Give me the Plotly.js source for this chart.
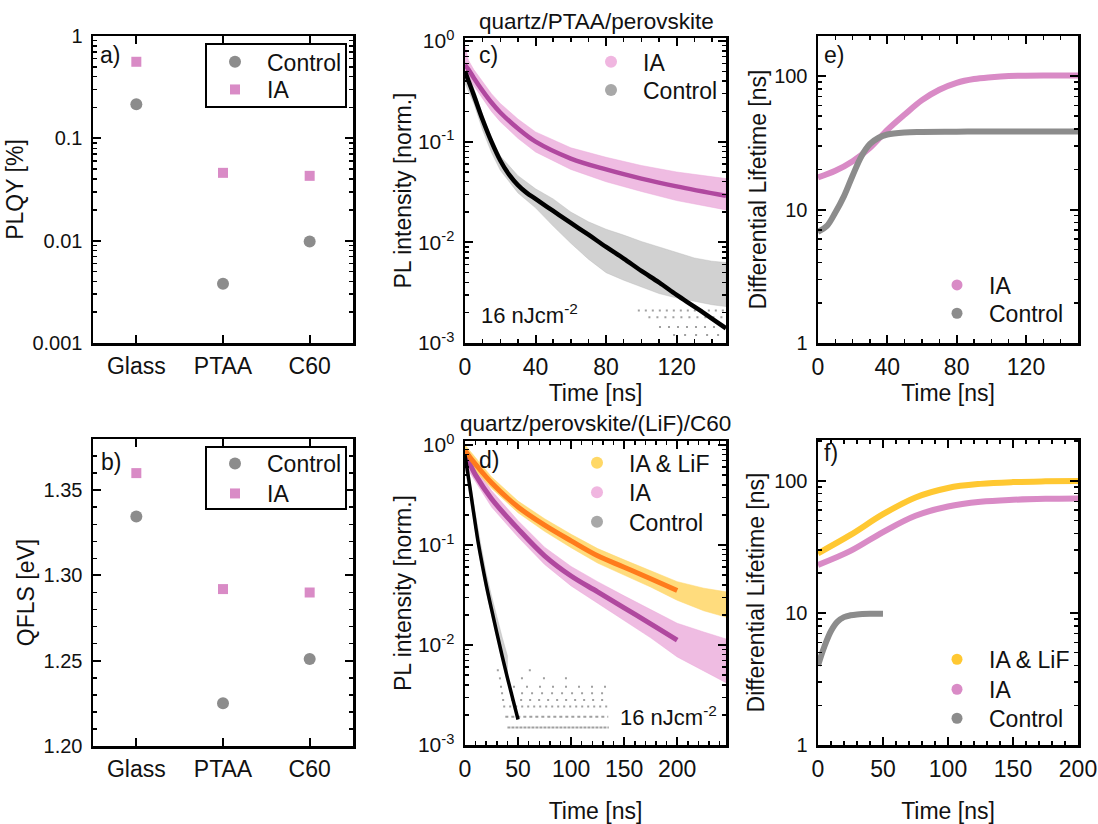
<!DOCTYPE html>
<html><head><meta charset="utf-8">
<script src="https://cdn.plot.ly/plotly-3.0.1.min.js"></script>
<style>html,body{margin:0;padding:0;background:#fff}#chart{width:1098px;height:824px}</style>
</head><body><div id="chart"></div>
<script>
// ---------- data ----------
const substrates = ['Glass', 'PTAA', 'C60'];
const plqyControl = [0.215, 0.0038, 0.0098];
const plqyIA = [0.56, 0.046, 0.043];
const qflsControl = [1.3345, 1.225, 1.251];
const qflsIA = [1.360, 1.292, 1.290];

// panel c (quartz/PTAA/perovskite)
const cIAFitTime = [0, 2, 5, 10, 15, 20, 30, 40, 60, 80, 100, 120, 148];
const cIAFit = [0.58, 0.52, 0.43, 0.32, 0.245, 0.195, 0.135, 0.100, 0.068, 0.053, 0.043, 0.036, 0.029];
const cIADataTime = [0, 2, 5, 10, 15, 20, 30, 40, 60, 80, 100, 120, 148];
const cIADataUpper = [0.9, 0.64, 0.52, 0.39, 0.30, 0.24, 0.168, 0.125, 0.087, 0.070, 0.058, 0.050, 0.043];
const cIADataLower = [0.45, 0.43, 0.36, 0.265, 0.20, 0.158, 0.108, 0.079, 0.053, 0.040, 0.032, 0.026, 0.021];
const cCtrlFitTime = [0, 2, 5, 10, 15, 20, 25, 30, 35, 40, 50, 60, 70, 80, 90, 100, 110, 120, 130, 140, 148];
const cCtrlFit = [0.5, 0.40, 0.29, 0.165, 0.10, 0.065, 0.047, 0.037, 0.031, 0.027, 0.0205, 0.0156, 0.0119, 0.0090, 0.0069, 0.0052, 0.0040, 0.0030, 0.0023, 0.00175, 0.0014];
const cCtrlDataTime = [0, 5, 10, 15, 20, 30, 40, 50, 60, 70, 80, 90, 100, 110, 120, 130, 140, 148];
const cCtrlDataUpper = [0.62, 0.33, 0.185, 0.11, 0.072, 0.046, 0.034, 0.027, 0.020, 0.016, 0.0135, 0.0118, 0.0102, 0.0090, 0.0080, 0.0070, 0.0065, 0.0063];
const cCtrlDataLower = [0.38, 0.24, 0.13, 0.078, 0.052, 0.031, 0.022, 0.0145, 0.0098, 0.0068, 0.0050, 0.0042, 0.0036, 0.0031, 0.0028, 0.0026, 0.0024, 0.0023];
const cCtrlRowLevel = [0.0021, 0.0018, 0.00144, 0.0012];
const cCtrlRowStart = [98, 104, 110, 118];
const cCtrlRowEnd = [148, 148, 148, 148];

// panel d (quartz/perovskite/(LiF)/C60)
const dFitTime = [0, 5, 10, 25, 50, 75, 100, 125, 150, 175, 200];
const dLiFFit = [0.88, 0.745, 0.64, 0.42, 0.24, 0.158, 0.11, 0.078, 0.060, 0.046, 0.035];
const dIAFit = [0.78, 0.63, 0.50, 0.29, 0.145, 0.078, 0.049, 0.034, 0.0235, 0.0163, 0.0112];
const dDataTime = [0, 5, 10, 25, 50, 75, 100, 125, 150, 175, 200, 225, 246];
const dLiFUpper = [1.0, 0.86, 0.74, 0.48, 0.275, 0.183, 0.128, 0.092, 0.071, 0.055, 0.043, 0.037, 0.034];
const dLiFLower = [0.72, 0.64, 0.55, 0.37, 0.21, 0.137, 0.094, 0.066, 0.050, 0.038, 0.028, 0.022, 0.019];
const dIAUpper = [0.95, 0.74, 0.60, 0.35, 0.175, 0.095, 0.061, 0.043, 0.031, 0.0225, 0.0165, 0.0135, 0.0115];
const dIALower = [0.60, 0.52, 0.42, 0.24, 0.12, 0.064, 0.039, 0.026, 0.0175, 0.0118, 0.0076, 0.0055, 0.0042];
const dCtrlFitTime = [0, 2, 4, 6, 8, 10, 12, 15, 20, 25, 30, 35, 40, 45, 50];
const dCtrlFit = [0.8, 0.58, 0.42, 0.30, 0.215, 0.155, 0.113, 0.075, 0.040, 0.0228, 0.0132, 0.0078, 0.0047, 0.0029, 0.0018];
const dCtrlDataTime = [0, 5, 10, 15, 20, 25, 30, 35, 40];
const dCtrlDataUpper = [0.92, 0.42, 0.20, 0.10, 0.052, 0.031, 0.019, 0.012, 0.0078];
const dCtrlDataLower = [0.60, 0.28, 0.13, 0.062, 0.034, 0.020, 0.0115, 0.0068, 0.0042];
const dCtrlRowLevel = [0.0015, 0.00192, 0.00242, 0.00282, 0.00329, 0.00383, 0.00464, 0.0056];
const dCtrlRowStart = [40, 38, 36, 35, 34, 33, 32, 30];
const dCtrlRowEnd = [135.5, 135, 135, 135, 137, 138, 110, 75];

// panel e (differential lifetime, PTAA)
const eIATime = [0, 10, 20, 30, 40, 50, 60, 70, 80, 90, 100, 110, 120, 135, 150];
const eIA = [17.4, 19.5, 23, 29, 39.5, 51.5, 66, 79, 89, 95, 98, 100, 100.5, 101, 101];
const eCtrlTime = [0, 5, 10, 15, 20, 25, 30, 35, 40, 50, 60, 80, 100, 150];
const eCtrl = [6.8, 7.5, 9.5, 12.6, 18, 25, 31, 34.5, 36.5, 37.8, 38.1, 38.3, 38.4, 38.4];

// panel f (differential lifetime, C60)
const fTime = [0, 25, 50, 75, 100, 125, 150, 175, 200];
const fLiF = [28.3, 39, 56, 75, 88.5, 95, 98, 99.3, 100];
const fIA = [23.1, 29.5, 41, 54.5, 64, 69.5, 72, 73.2, 73.6];
const fCtrlTime = [0, 5, 10, 15, 20, 25, 30, 40, 50];
const fCtrl = [4.0, 5.6, 7.3, 8.6, 9.3, 9.6, 9.75, 9.85, 9.85];

const logTickVals = [0.001, 0.01, 0.1, 1];
const plqyTickText = ['0.001', '0.01', '0.1', '1'];
const powTickText = ['10<sup>-3</sup>', '10<sup>-2</sup>', '10<sup>-1</sup>', '10<sup>0</sup>'];
const lifeTickVals = [1, 10, 100];
const lifeTickText = ['1', '10', '100'];

// ---------- styles ----------
const FONT = 'Liberation Sans, Arial, Helvetica, sans-serif';
const PINK = '#d98bc6', GREY = '#8c8c8c', YELLOW = '#ffc832';
const PINK_CLOUD = 'rgba(234,166,216,0.75)', GREY_CLOUD = 'rgba(180,180,180,0.62)', YELLOW_CLOUD = 'rgba(255,214,102,0.85)';
const MAGENTA = '#b0489f', ORANGE = '#ff7b1c';
const W = 1098, H = 824;

function band(t, up, lo, color, xa, ya) {
  return {x: t.concat(t.slice().reverse()), y: up.concat(lo.slice().reverse()),
    mode: 'lines', fill: 'toself', fillcolor: color, line: {width: 0.6, color: color},
    xaxis: xa, yaxis: ya, showlegend: false, hoverinfo: 'skip'};
}
function line(t, v, color, w, xa, ya) {
  return {x: t, y: v, mode: 'lines', line: {color: color, width: w, shape: 'spline'},
    xaxis: xa, yaxis: ya, showlegend: false};
}
function rows(levels, starts, ends, dashes, xa, ya) {
  return levels.map((lv, i) => ({x: [starts[i], ends[i]], y: [lv, lv], mode: 'lines',
    line: {color: 'rgba(150,150,150,0.9)', width: 2, dash: dashes[i]},
    xaxis: xa, yaxis: ya, showlegend: false, hoverinfo: 'skip'}));
}

// legend entries: one small legend per entry so that each sits where the reference puts it
const legendSpecs = [];
let legendCount = 0;
function newLegend(left, cy) {
  legendCount += 1;
  const key = legendCount === 1 ? 'legend' : 'legend' + legendCount;
  legendSpecs.push({key, left, cy});
  return key;
}
function legendDot(name, color, left, cy, xa, ya, size) {
  return {x: [null], y: [null], mode: 'markers', name: name, legend: newLegend(left, cy),
    marker: {color: color, size: size || 12, symbol: 'circle'}, xaxis: xa, yaxis: ya};
}

const traces = [];
// a
traces.push({x: substrates, y: plqyControl, mode: 'markers', name: 'Control', legend: newLegend(203, 61.7),
  marker: {symbol: 'circle', size: 12, color: GREY}, xaxis: 'x', yaxis: 'y'});
traces.push({x: substrates, y: plqyIA, mode: 'markers', name: 'IA', legend: newLegend(203, 89.5),
  marker: {symbol: 'square', size: 10, color: PINK}, xaxis: 'x', yaxis: 'y'});
// b
traces.push({x: substrates, y: qflsControl, mode: 'markers', name: 'Control', legend: newLegend(203, 463.5),
  marker: {symbol: 'circle', size: 12, color: GREY}, xaxis: 'x2', yaxis: 'y2'});
traces.push({x: substrates, y: qflsIA, mode: 'markers', name: 'IA', legend: newLegend(203, 493.5),
  marker: {symbol: 'square', size: 10, color: PINK}, xaxis: 'x2', yaxis: 'y2'});
// c
traces.push(band(cCtrlDataTime, cCtrlDataUpper, cCtrlDataLower, GREY_CLOUD, 'x3', 'y3'));
traces.push(...rows(cCtrlRowLevel, cCtrlRowStart, cCtrlRowEnd, ['2px,5px', '2px,6px', '2px,7px', '2px,9px'], 'x3', 'y3'));
traces.push(band(cIADataTime, cIADataUpper, cIADataLower, PINK_CLOUD, 'x3', 'y3'));
traces.push(line(cIAFitTime, cIAFit, MAGENTA, 4.5, 'x3', 'y3'));
traces.push(line(cCtrlFitTime, cCtrlFit, '#000', 4.5, 'x3', 'y3'));
traces.push(legendDot('IA', '#f0b6e0', 579, 61.7, 'x3', 'y3'));
traces.push(legendDot('Control', '#a8a8a8', 579, 90, 'x3', 'y3'));
// d
traces.push(...rows(dCtrlRowLevel, dCtrlRowStart, dCtrlRowEnd, ['3px,1px', '3px,3px', '2px,4px', '2px,7px', '2px,8px', '2px,11px', '2px,20px', '2px,30px'], 'x4', 'y4'));
traces.push(band(dCtrlDataTime, dCtrlDataUpper, dCtrlDataLower, GREY_CLOUD, 'x4', 'y4'));
traces.push(band(dDataTime, dIAUpper, dIALower, PINK_CLOUD, 'x4', 'y4'));
traces.push(band(dDataTime, dLiFUpper, dLiFLower, YELLOW_CLOUD, 'x4', 'y4'));
traces.push(line(dFitTime, dIAFit, MAGENTA, 5, 'x4', 'y4'));
traces.push(line(dFitTime, dLiFFit, ORANGE, 5, 'x4', 'y4'));
traces.push(line(dCtrlFitTime, dCtrlFit, '#000', 3.5, 'x4', 'y4'));
traces.push(legendDot('IA &amp; LiF', '#ffd866', 565, 462.7, 'x4', 'y4'));
traces.push(legendDot('IA', '#f0b6e0', 565, 492.3, 'x4', 'y4'));
traces.push(legendDot('Control', '#a8a8a8', 565, 521.7, 'x4', 'y4'));
// e
traces.push(line(eIATime, eIA, PINK, 6, 'x5', 'y5'));
traces.push(line(eCtrlTime, eCtrl, GREY, 6, 'x5', 'y5'));
traces.push(legendDot('IA', PINK, 925, 285, 'x5', 'y5', 11));
traces.push(legendDot('Control', GREY, 925, 313.3, 'x5', 'y5', 11));
// f
traces.push(line(fTime, fLiF, YELLOW, 6, 'x6', 'y6'));
traces.push(line(fTime, fIA, PINK, 6, 'x6', 'y6'));
traces.push(line(fCtrlTime, fCtrl, GREY, 6, 'x6', 'y6'));
traces.push(legendDot('IA &amp; LiF', YELLOW, 925, 659.3, 'x6', 'y6', 11));
traces.push(legendDot('IA', PINK, 925, 689.3, 'x6', 'y6', 11));
traces.push(legendDot('Control', GREY, 925, 718.3, 'x6', 'y6', 11));

// ---------- layout ----------
const px = (a, b) => [a / W, b / W];
const py = (top, bottom) => [1 - bottom / H, 1 - top / H];
const tf = s => ({family: FONT, size: s, color: '#111'});

function axis(extra) {
  return Object.assign({showline: true, linecolor: '#000', linewidth: 2.5, mirror: 'ticks',
    ticks: 'inside', ticklen: 8, tickwidth: 2, tickcolor: '#000', showgrid: false, zeroline: false,
    ticklabelstandoff: 4, tickfont: tf(23)}, extra);
}
const minorLin = d => ({dtick: d, ticks: 'inside', ticklen: 4, tickwidth: 1.5, tickcolor: '#000', showgrid: false});
const minorLog = {dtick: 'D1', ticks: 'inside', ticklen: 4, tickwidth: 1.5, tickcolor: '#000', showgrid: false};

const layout = {
  width: W, height: H, margin: {l: 0, r: 0, t: 0, b: 0}, paper_bgcolor: '#fff', plot_bgcolor: '#fff',
  font: {family: FONT, color: '#111', size: 23}, showlegend: true, hovermode: false,
  // a
  xaxis: axis({domain: px(93, 353), anchor: 'y', type: 'category', range: [-0.5, 2.5], ticklabelstandoff: 1}),
  yaxis: axis({domain: py(36, 343), anchor: 'x', type: 'log', range: [-3, 0], tickvals: logTickVals,
    ticktext: plqyTickText, tickfont: tf(20), minor: minorLog, title: {text: 'PLQY [%]', font: tf(23), standoff: 3}}),
  // b
  xaxis2: axis({domain: px(93, 353), anchor: 'y2', type: 'category', range: [-0.5, 2.5], ticklabelstandoff: 1}),
  yaxis2: axis({domain: py(439, 746), anchor: 'x2', range: [1.2, 1.38], dtick: 0.05, tick0: 1.2,
    tickformat: '.2f', tickfont: tf(20), minor: minorLin(0.01), title: {text: 'QFLS [eV]', font: tf(23), standoff: 3}}),
  // c
  xaxis3: axis({domain: px(465, 726), anchor: 'y3', range: [0, 148], dtick: 40, minor: minorLin(10),
    ticklabelstandoff: 2, title: {text: 'Time [ns]', font: tf(23), standoff: 0}}),
  yaxis3: axis({domain: py(38, 343), anchor: 'x3', type: 'log', range: [-3, 0.03], tickvals: logTickVals,
    ticktext: powTickText, tickfont: tf(21), minor: minorLog, title: {text: 'PL intensity [norm.]', font: tf(23), standoff: 0}}),
  // d
  xaxis4: axis({domain: px(465, 726), anchor: 'y4', range: [0, 246], dtick: 50, minor: minorLin(10),
    ticklabelstandoff: 2, title: {text: 'Time [ns]', font: tf(23), standoff: 26}}),
  yaxis4: axis({domain: py(441, 745), anchor: 'x4', type: 'log', range: [-3, 0.04], tickvals: logTickVals,
    ticktext: powTickText, tickfont: tf(21), minor: minorLog, title: {text: 'PL intensity [norm.]', font: tf(23), standoff: 0}}),
  // e
  xaxis5: axis({domain: px(818, 1078), anchor: 'y5', range: [0, 150], dtick: 40, minor: minorLin(10),
    ticklabelstandoff: 2, title: {text: 'Time [ns]', font: tf(23), standoff: 0}}),
  yaxis5: axis({domain: py(36, 343), anchor: 'x5', type: 'log', range: [0, 2.3], tickvals: lifeTickVals,
    ticktext: lifeTickText, tickfont: tf(20), minor: minorLog, title: {text: 'Differential Lifetime [ns]', font: tf(23), standoff: 1}}),
  // f
  xaxis6: axis({domain: px(818, 1078), anchor: 'y6', range: [0, 200], dtick: 50, minor: minorLin(10),
    ticklabelstandoff: 2, title: {text: 'Time [ns]', font: tf(23), standoff: 28}}),
  yaxis6: axis({domain: py(440, 745), anchor: 'x6', type: 'log', range: [0, 2.31], tickvals: lifeTickVals,
    ticktext: lifeTickText, tickfont: tf(20), minor: minorLog, title: {text: 'Differential Lifetime [ns]', font: tf(23), standoff: 3}}),
  shapes: [
    {type: 'rect', xref: 'paper', yref: 'paper', x0: 206 / W, x1: 346 / W, y0: 1 - 107 / H, y1: 1 - 44 / H,
      line: {color: '#000', width: 2}, fillcolor: 'rgba(0,0,0,0)'},
    {type: 'rect', xref: 'paper', yref: 'paper', x0: 206 / W, x1: 346 / W, y0: 1 - 509 / H, y1: 1 - 447 / H,
      line: {color: '#000', width: 2}, fillcolor: 'rgba(0,0,0,0)'}
  ],
  annotations: [
    {text: 'a)', x: 98 / W, y: 1 - 55 / H},
    {text: 'b)', x: 99 / W, y: 1 - 462 / H},
    {text: 'c)', x: 477 / W, y: 1 - 55 / H},
    {text: 'd)', x: 477 / W, y: 1 - 460 / H},
    {text: 'e)', x: 822 / W, y: 1 - 55 / H},
    {text: 'f)', x: 822 / W, y: 1 - 453 / H},
  ].map(a => Object.assign(a, {xref: 'paper', yref: 'paper', xanchor: 'left', yanchor: 'middle',
      showarrow: false, font: tf(23)})).concat([
    {text: 'quartz/PTAA/perovskite', x: 596 / W, y: 1 - 22 / H, xanchor: 'center', font: tf(22.5)},
    {text: 'quartz/perovskite/(LiF)/C60', x: 595 / W, y: 1 - 423 / H, xanchor: 'center', font: tf(22.5)},
    {text: '16 nJcm<sup>-2</sup>', x: 479 / W, y: 1 - 314 / H, xanchor: 'left', font: tf(22)},
    {text: '16 nJcm<sup>-2</sup>', x: 719 / W, y: 1 - 716 / H, xanchor: 'right', font: tf(22)},
  ].map(a => Object.assign(a, {xref: 'paper', yref: 'paper', yanchor: 'middle', showarrow: false})))
};
legendSpecs.forEach(s => {
  layout[s.key] = {x: s.left / W, y: 1 - s.cy / H, xanchor: 'left', yanchor: 'middle', font: tf(23),
    bgcolor: 'rgba(0,0,0,0)', borderwidth: 0, itemwidth: 54, tracegroupgap: 0};
});

Plotly.newPlot('chart', traces, layout, {staticPlot: true, displayModeBar: false});
</script></body></html>
